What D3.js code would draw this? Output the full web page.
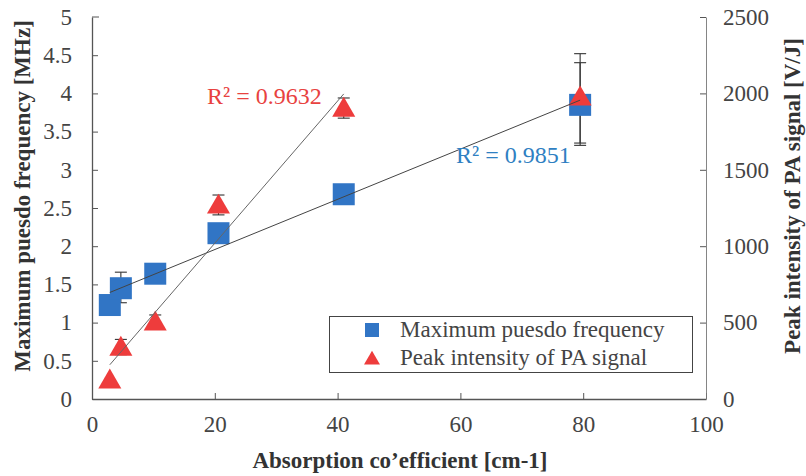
<!DOCTYPE html>
<html>
<head>
<meta charset="utf-8">
<script src="https://cdn.jsdelivr.net/npm/d3@7"></script>
<style>
  body { margin: 0; background: #fff; }
  svg text { font-family: "Liberation Serif", "Times New Roman", serif !important; }
</style>
</head>
<body>
<div id="chart"></div>
<script>
// absorption coefficient (cm-1) for each sample
const absorption = [2.9, 4.7, 10.3, 20.6, 41.0, 79.5];

// maximum puesdo frequency (MHz), left axis
const freq = [1.23, 1.45, 1.64, 2.17, 2.68, 3.85];
const freqErrUp = [0, 0.21, 0, 0, 0, 0.67];
const freqErrDown = [0, 0.19, 0, 0, 0, 0.53];

// peak intensity of PA signal (V/J), right axis
const peak = [125, 340, 505, 1270, 1904, 1978];
const peakErrUp = [0, 50, 45, 65, 66, 223];
const peakErrDown = [0, 50, 45, 65, 66, 303];

const xTicks = [0, 20, 40, 60, 80, 100];
const yLeftTicks = [0, 0.5, 1, 1.5, 2, 2.5, 3, 3.5, 4, 4.5, 5];
const yRightTicks = [0, 500, 1000, 1500, 2000, 2500];

const r2Freq = "R\u00B2 = 0.9851";
const r2Peak = "R\u00B2 = 0.9632";

const width = 806, height = 476;
const margin = {top: 17, right: 100, bottom: 77, left: 92};
const blue = "#3175c5", red = "#ee3c3c";
const serif = '"Liberation Serif", "Times New Roman", serif';

const svg = d3.create("svg")
  .attr("width", width)
  .attr("height", height)
  .attr("viewBox", [0, 0, width, height])
  .attr("font-family", serif);

const x = d3.scaleLinear().domain([0, 100]).range([margin.left, width - margin.right]);
const yL = d3.scaleLinear().domain([0, 5]).range([height - margin.bottom, margin.top]);
const yR = d3.scaleLinear().domain([0, 2500]).range([height - margin.bottom, margin.top]);

// least squares fit, returns [slope, intercept]
function fit(xs, ys) {
  const mx = d3.mean(xs), my = d3.mean(ys);
  let sxy = 0, sxx = 0;
  xs.forEach((v, i) => { sxy += (v - mx) * (ys[i] - my); sxx += (v - mx) * (v - mx); });
  const b = sxy / sxx;
  return [b, my - b * mx];
}

// axes
const axisColor = "#555";
const fontSize = 23;

const gx = svg.append("g")
  .attr("transform", `translate(0,${yL(0)})`)
  .call(d3.axisBottom(x).tickValues(xTicks).tickFormat(d3.format("d")).tickSizeInner(-6).tickSizeOuter(0).tickPadding(17));
const gl = svg.append("g")
  .attr("transform", `translate(${x(0)},0)`)
  .call(d3.axisLeft(yL).tickValues(yLeftTicks).tickFormat(d => String(d)).tickSizeInner(-6).tickSizeOuter(0).tickPadding(20));
const gr = svg.append("g")
  .attr("transform", `translate(${x(100)},0)`)
  .call(d3.axisRight(yR).tickValues(yRightTicks).tickFormat(d3.format("d")).tickSizeInner(-6).tickSizeOuter(0).tickPadding(17));

[gx, gl, gr].forEach(g => {
  g.attr("font-family", serif).attr("font-size", fontSize);
  g.select(".domain").attr("stroke", axisColor).attr("stroke-width", 1.3);
  g.selectAll(".tick line").attr("stroke", axisColor);
  g.selectAll(".tick text").attr("fill", "#444").style("font-family", serif).style("font-size", fontSize + "px");
});
gr.select(".domain").attr("stroke-width", 0.9).attr("stroke", "#777");
gl.select(".tick:last-of-type line").remove();
gl.append("line").attr("x1", 0).attr("x2", 7).attr("y1", yL(5)).attr("y2", yL(5)).attr("stroke", axisColor);

// axis titles
const titleY = 196;
const titleSize = "23px";
svg.append("text")
  .attr("transform", `translate(30,${titleY}) rotate(-90)`)
  .attr("text-anchor", "middle")
  .attr("fill", "#333").attr("font-weight", "bold").style("font-size", titleSize)
  .text("Maximum puesdo frequency [MHz]");
svg.append("text")
  .attr("transform", `translate(800,${titleY}) rotate(-90)`)
  .attr("text-anchor", "middle")
  .attr("fill", "#333").attr("font-weight", "bold").style("font-size", titleSize)
  .text("Peak intensity of PA signal [V/J]");
svg.append("text")
  .attr("x", 400).attr("y", 468)
  .attr("text-anchor", "middle")
  .attr("fill", "#333").attr("font-weight", "bold").style("font-size", titleSize)
  .text("Absorption co\u2019efficient [cm-1]");

// error bars
function errorBars(ys, up, down, yScale) {
  const g = svg.append("g").attr("stroke", "#333").attr("stroke-width", 1.1);
  ys.forEach((v, i) => {
    if (!up[i] && !down[i]) return;
    const cx = x(absorption[i]);
    const y1 = yScale(v + up[i]), y2 = yScale(v - down[i]);
    g.append("line").attr("x1", cx).attr("x2", cx).attr("y1", y1).attr("y2", y2);
    g.append("line").attr("x1", cx - 6).attr("x2", cx + 6).attr("y1", y1).attr("y2", y1);
    g.append("line").attr("x1", cx - 6).attr("x2", cx + 6).attr("y1", y2).attr("y2", y2);
  });
}
errorBars(freq, freqErrUp, freqErrDown, yL);
errorBars(peak, peakErrUp, peakErrDown, yR);

// markers
const sq = 22;
svg.append("g").selectAll("rect")
  .data(freq)
  .join("rect")
  .attr("x", (d, i) => x(absorption[i]) - sq / 2)
  .attr("y", d => yL(d) - sq / 2)
  .attr("width", sq).attr("height", sq)
  .attr("fill", blue);

const tri = d3.symbol().type(d3.symbolTriangle).size(230);
svg.append("g").selectAll("path")
  .data(peak)
  .join("path")
  .attr("d", tri)
  .attr("transform", (d, i) => `translate(${x(absorption[i])},${yR(d) + 2})`)
  .attr("fill", red);

// trendlines
const [bF, aF] = fit(absorption, freq);
svg.append("line")
  .attr("x1", x(absorption[0])).attr("y1", yL(aF + bF * absorption[0]))
  .attr("x2", x(absorption[5])).attr("y2", yL(aF + bF * absorption[5]))
  .attr("stroke", "#444").attr("stroke-width", 1);

const px = absorption.slice(0, 5), py = peak.slice(0, 5);
const [bP, aP] = fit(px, py);
svg.append("line")
  .attr("x1", x(px[0])).attr("y1", yR(aP + bP * px[0]))
  .attr("x2", x(px[4])).attr("y2", yR(aP + bP * px[4]))
  .attr("stroke", "#666").attr("stroke-width", 1);

// R² labels
svg.append("text").attr("x", 207).attr("y", 104)
  .attr("fill", "#e8423f").style("font-size", "24px").text(r2Peak);
svg.append("text").attr("x", 456).attr("y", 163)
  .attr("fill", "#2f80c2").style("font-size", "24px").text(r2Freq);

// legend
const legend = svg.append("g");
legend.append("rect")
  .attr("x", 329.5).attr("y", 316.5).attr("width", 363).attr("height", 56)
  .attr("fill", "#fff").attr("stroke", "#444").attr("stroke-width", 1);
legend.append("rect").attr("x", 365).attr("y", 323).attr("width", 14).attr("height", 14).attr("fill", blue);
legend.append("path").attr("d", d3.symbol().type(d3.symbolTriangle).size(110))
  .attr("transform", "translate(372,360)").attr("fill", red);
legend.append("text").attr("x", 400).attr("y", 337)
  .attr("fill", "#444").style("font-size", "23px").text("Maximum puesdo frequency");
legend.append("text").attr("x", 400).attr("y", 365)
  .attr("fill", "#444").style("font-size", "23px").text("Peak intensity of PA signal");

document.querySelector("#chart").appendChild(svg.node());
</script>
</body>
</html>
